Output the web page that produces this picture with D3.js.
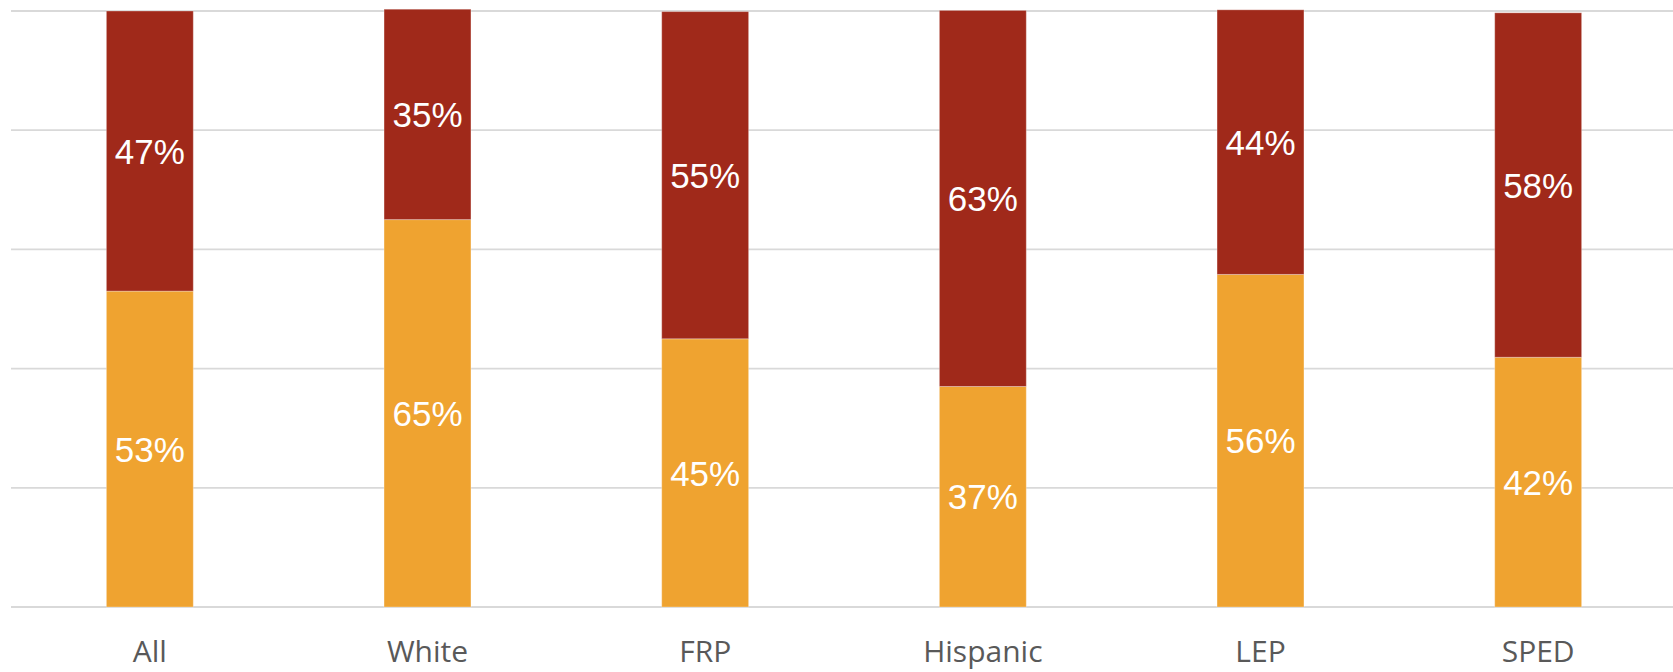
<!DOCTYPE html>
<html>
<head>
<meta charset="utf-8">
<script src="https://cdn.jsdelivr.net/npm/d3@7"></script>
<style>
  body { margin: 0; background: #fff; }
  svg { display: block; }
</style>
</head>
<body>
<div id="vis"></div>
<script>
var width = 1673,
    height = 672;

// groups along the x axis
var groups = ["All", "White", "FRP", "Hispanic", "LEP", "SPED"];
// bottom (orange) and top (red) shares, percent
var bottomValues = [53.0, 65.0, 45.0, 37.0, 55.8, 41.9];
var topValues = [47.0, 35.3, 54.9, 63.1, 44.4, 57.8];
var gridTicks = [0, 20, 40, 60, 80, 100];

var svg = d3.select("#vis").append("svg")
    .attr("width", width)
    .attr("height", height);

var x = d3.scaleBand()
    .domain(groups)
    .range([11, 1677])
    .paddingInner(0.687)
    .paddingOuter(0.3435);

var y = d3.scaleLinear()
    .domain([0, 100])
    .range([607, 11]);

// gridlines
svg.append("g")
  .selectAll("line")
  .data(gridTicks)
  .enter()
  .append("line")
    .attr("x1", 11)
    .attr("x2", width)
    .attr("y1", function(d) { return y(d); })
    .attr("y2", function(d) { return y(d); })
    .attr("stroke", "#d9d9d9")
    .attr("stroke-width", 1.8);

var rows = groups.map(function(g, i) {
  return { group: g, bottom: bottomValues[i], top: topValues[i] };
});

var bars = svg.append("g")
  .selectAll("g")
  .data(rows)
  .enter()
  .append("g");

// orange segment
bars.append("rect")
    .attr("x", function(d) { return x(d.group); })
    .attr("width", x.bandwidth())
    .attr("y", function(d) { return y(d.bottom); })
    .attr("height", function(d) { return y(0) - y(d.bottom); })
    .attr("fill", "#efa330")
    .attr("stroke", "#ffffff")
    .attr("stroke-opacity", 0.3)
    .attr("stroke-width", 1);

// red segment
bars.append("rect")
    .attr("x", function(d) { return x(d.group); })
    .attr("width", x.bandwidth())
    .attr("y", function(d) { return y(d.bottom + d.top); })
    .attr("height", function(d) { return y(d.bottom) - y(d.bottom + d.top); })
    .attr("fill", "#a0291a")
    .attr("stroke", "#ffffff")
    .attr("stroke-opacity", 0.3)
    .attr("stroke-width", 1);

// value labels
bars.append("text")
    .attr("x", function(d) { return x(d.group) + x.bandwidth() / 2; })
    .attr("y", function(d) { return (y(0) + y(d.bottom)) / 2; })
    .attr("dy", "0.36em")
    .attr("text-anchor", "middle")
    .style("font-family", "'Liberation Sans', Arial, sans-serif")
    .style("font-size", "35px")
    .style("fill", "#ffffff")
    .text(function(d) { return Math.round(d.bottom) + "%"; });

bars.append("text")
    .attr("x", function(d) { return x(d.group) + x.bandwidth() / 2; })
    .attr("y", function(d) { return (y(d.bottom) + y(d.bottom + d.top)) / 2; })
    .attr("dy", "0.36em")
    .attr("text-anchor", "middle")
    .style("font-family", "'Liberation Sans', Arial, sans-serif")
    .style("font-size", "35px")
    .style("fill", "#ffffff")
    .text(function(d) { return Math.round(d.top) + "%"; });

// category axis
var xAxis = d3.axisBottom(x).tickSize(0).tickPadding(0);

svg.append("g")
    .attr("transform", "translate(0,607)")
    .call(xAxis)
    .call(function(g) { g.select(".domain").remove(); })
    .selectAll("text")
    .attr("y", 55)
    .attr("dy", null)
    .style("font-family", "'Open Sans', sans-serif")
    .style("font-size", "30px")
    .style("fill", "#595959");
</script>
</body>
</html>
